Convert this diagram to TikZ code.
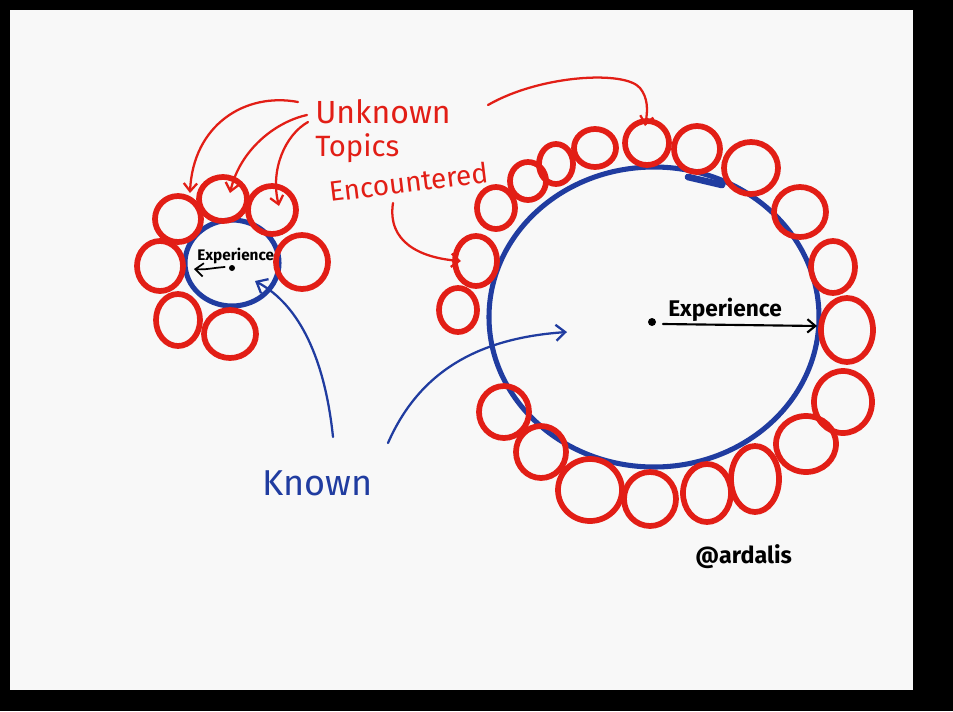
\documentclass[tikz,border=0pt]{standalone}
\usepackage{fontspec}
\setmainfont{Fira Sans}
\usetikzlibrary{shapes.geometric,arrows.meta}
\definecolor{sred}{RGB}{226,30,22}
\definecolor{sblue}{RGB}{32,60,160}
\definecolor{card}{RGB}{248,248,248}
\newcommand\topicat[4]{\node[topicc, minimum width=#3*1.5pt+3pt, minimum height=#4*1.5pt+3pt] (#1) at (#2) {};}
\begin{document}
\begin{tikzpicture}[x=0.75pt,y=-0.75pt,
  topicc/.style={draw=sred, line width=4.3pt, ellipse, inner sep=0pt},
  knownc/.style={draw=sblue, line width=3.8pt, ellipse, inner sep=0pt},
  redarrow/.style={draw=sred, line width=1.7pt, line cap=round, -{Straight Barb[length=6pt,width=10pt]}},
  bluearrow/.style={draw=sblue, line width=1.7pt, line cap=round, -{Straight Barb[length=7pt,width=12pt]}},
  blackarrow/.style={draw=black, line width=1.6pt, line cap=round, -{Straight Barb[length=6pt,width=10pt]}},
  redtext/.style={text=sred, inner sep=0pt, anchor=base west},
  bluetext/.style={text=sblue, inner sep=0pt, anchor=base west},
  blacktext/.style={text=black, inner sep=0pt, anchor=base west, font=\bfseries},
  dotc/.style={circle, fill=black, inner sep=0pt, minimum size=#1},
]
% frame
\fill[black] (0,0) rectangle (953,711);
\fill[card] (10,10) rectangle (913,690);
\useasboundingbox (0,0) rectangle (953,711);

% small cluster
\node[knownc, minimum width=47*1.5pt, minimum height=43*1.5pt] (sb) at (232,263) {};
\topicat{s1}{178,219}{21}{21}
\topicat{s2}{223,199}{22}{20}
\topicat{s3}{272,210}{22}{22}
\topicat{s4}{160,266}{21}{23}
\topicat{s5}{302,262}{24}{25}
\topicat{s6}{178,320}{20}{24}
\topicat{s7}{230,334}{24}{22}

% large cluster
\node[knownc, minimum width=165*1.5pt, minimum height=150*1.5pt] (bb) at (654,317) {};
\draw[sblue, line width=5pt, line cap=round] (688,177) -- (722,185);
\topicat{b1}{458,310}{17}{20}
\topicat{b2}{476,261}{19}{23}
\topicat{b3}{496,208}{17}{19}
\topicat{b4}{528,181}{16}{17}
\topicat{b5}{556,164}{15}{18}
\topicat{b6}{595,148}{19}{17}
\topicat{b7}{647,143}{20}{20}
\topicat{b8}{697,149}{21}{21}
\topicat{b9}{751,168}{25}{24}
\topicat{b10}{800,212}{24}{23}
\topicat{b11}{833,267}{20}{24}
\topicat{b12}{847,330}{24}{30}
\topicat{b13}{843,402}{27}{29}
\topicat{b14}{806,444}{28}{26}
\topicat{b15}{755,479}{22}{31}
\topicat{b16}{707,493}{22}{27}
\topicat{b17}{650,499}{24}{25}
\topicat{b18}{590,490}{30}{29}
\topicat{b19}{541,452}{23}{24}
\topicat{b20}{504,412}{23}{24}

% texts
\node[redtext, font=\fontsize{24}{28}\selectfont] (unk) at (315,123) {Unknown};
\node[redtext, font=\fontsize{22}{25}\selectfont] (tops) at (315,156) {Topics};
\node[redtext, font=\fontsize{21}{24}\selectfont, rotate=7] (enc) at (330,202) {Encountered};
\node[bluetext, font=\fontsize{27}{30}\selectfont] (known) at (262,495) {Known};
\node[blacktext, font=\bfseries\fontsize{17}{20}\selectfont] (bexp) at (668,316) {Experience};
\node[blacktext, font=\bfseries\fontsize{11.5}{14}\selectfont] (sexp) at (197,260) {Experience};
\node[blacktext, font=\bfseries\fontsize{17.5}{20}\selectfont] (ard) at (695,563) {@ardalis};

% red arrows
\coordinate (a1s) at (298,102);
\coordinate (a2s) at (307,115);
\coordinate (a3s) at (308,122);
\coordinate (a4s) at (488,105);
\coordinate (a5s) at (393,203);
\coordinate (a1e) at (190,193);
\coordinate (a2e) at (230,193);
\coordinate (a3e) at (279,206);
\coordinate (a4e) at (645,126);
\coordinate (a5e) at (461,261);
\draw[redarrow] (a1s) .. controls (245,92) and (193,125) .. (a1e);
\draw[redarrow] (a2s) .. controls (275,122) and (240,150) .. (a2e);
\draw[redarrow] (a3s) .. controls (285,135) and (270,170) .. (a3e);
\draw[redarrow] (a4s) .. controls (540,75) and (625,70) .. (640,88) .. controls (648,98) and (648,110) .. (a4e);
\draw[redarrow] (a5s) .. controls (387,242) and (420,258) .. (a5e);

% blue arrows
\coordinate (k1s) at (333,437);
\coordinate (k2s) at (388,443);
\coordinate (k1e) at (255,281);
\coordinate (k2e) at (567,332);
\draw[bluearrow] (k1s) .. controls (325,360) and (300,305) .. (k1e);
\draw[bluearrow] (k2s) .. controls (420,370) and (480,338) .. (k2e);

% experience radii
\node[dotc=6pt] (bdot) at (652,322) {};
\coordinate (bexpe) at (817,326);
\draw[blackarrow] (663,324) -- (bexpe);
\node[dotc=4.5pt] (sdot) at (232,268) {};
\coordinate (sexpe) at (194,269);
\draw[blackarrow, line width=1.3pt] (sdot.west) ++(-4,-1) .. controls (212,268) and (205,270) .. (sexpe);
\end{tikzpicture}
\end{document}
